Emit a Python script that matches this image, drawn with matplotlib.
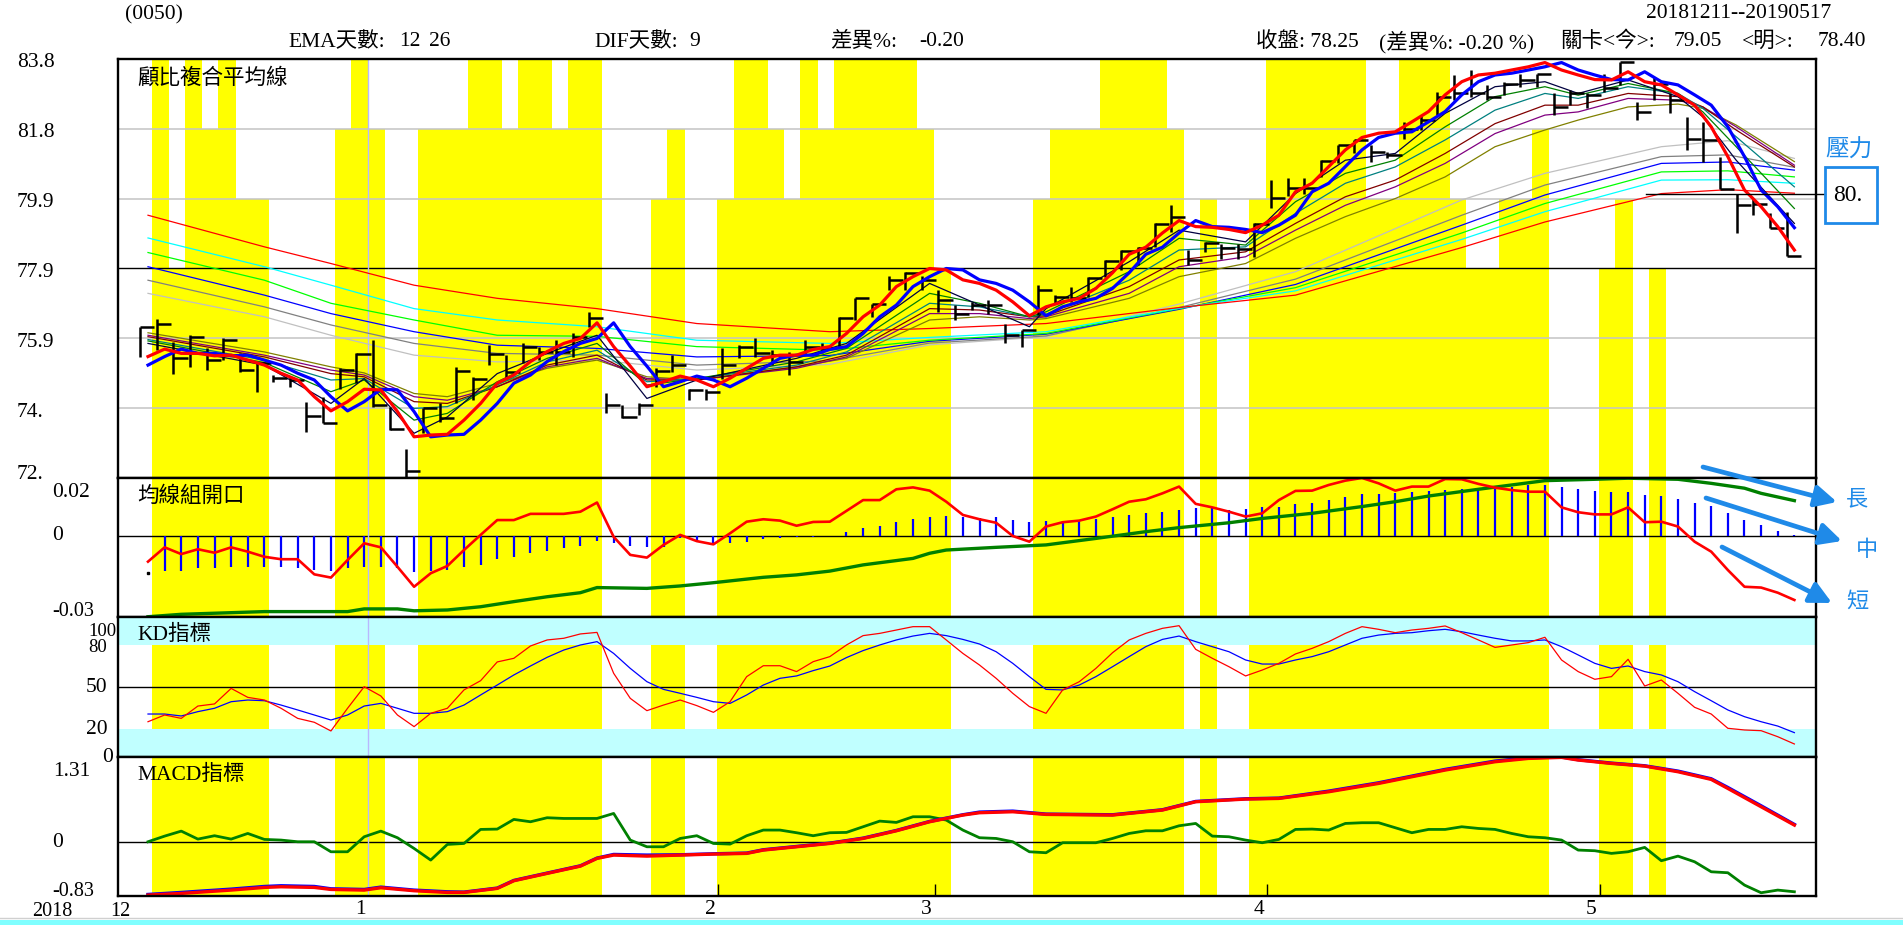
import numpy as np
import matplotlib
matplotlib.use('Agg')
import matplotlib.pyplot as plt
from matplotlib.patches import Rectangle, FancyArrowPatch
from matplotlib.lines import Line2D

plt.rcParams['font.family'] = ['Liberation Serif', 'Noto Sans CJK TC']

# ------------------------------------------------------------------ data
N_DAYS = 100
month_labels = ['1', '2', '3', '4', '5']
month_start = [13, 34, 47, 67, 87]
year_break = 13.2

# yellow background level (0..6 grid steps) per day
yellow_level = [6, 3, 6, 5, 6, 4, 4, 0, 0, 0,
                0, 5, 6, 5, 0, 0, 5, 5, 5, 6,
                6, 5, 6, 6, 5, 6, 6, 0, 0, 0,
                4, 5, 0, 0, 4, 6, 6, 5, 4, 6,
                5, 6, 6, 6, 6, 6, 5, 3, 0, 0,
                0, 0, 0, 4, 5, 5, 5, 6, 6, 6,
                6, 5, 0, 4, 0, 0, 4, 6, 6, 6,
                6, 6, 6, 4, 4, 6, 6, 6, 4, 3,
                3, 4, 4, 5, 0, 0, 0, 3, 4, 0,
                3, 0, 0, 0, 0, 0, 0, 0, 0, 0]

price_high = [76.24, 76.49, 75.84, 76.02, 75.65, 75.93, 75.51, 75.27, 74.90, 74.85,
              74.15, 74.29, 75.09, 75.51, 75.88, 74.01, 72.83, 73.96, 74.10, 75.13,
              74.85, 75.74, 75.46, 75.79, 75.70, 75.88, 76.07, 76.68, 74.38, 74.05,
              74.10, 75.09, 75.46, 74.52, 74.52, 75.65, 75.74, 75.93, 75.60, 75.55,
              75.88, 75.79, 76.54, 77.06, 76.90, 77.70, 77.80, 77.70, 77.29, 76.87,
              76.96, 77.01, 76.35, 76.17, 77.43, 77.15, 77.39, 77.67, 78.13, 78.42,
              78.51, 79.17, 79.68, 78.42, 78.65, 78.60, 78.60, 79.17, 80.39, 80.44,
              80.44, 80.95, 81.37, 81.51, 81.37, 81.19, 82.03, 82.22, 82.88, 83.35,
              83.49, 83.06, 83.16, 83.39, 83.39, 82.83, 82.92, 82.83, 83.39, 83.72,
              82.59, 83.30, 82.83, 82.17, 82.03, 81.05, 80.01, 79.87, 79.45, 79.50]
price_low = [75.41, 75.60, 74.94, 75.13, 75.04, 75.32, 74.99, 74.43, 74.71, 74.55,
             73.30, 73.54, 74.52, 74.67, 74.01, 73.35, 72.03, 73.26, 73.58, 74.10,
             74.20, 75.18, 74.80, 75.23, 75.32, 75.18, 75.41, 76.26, 73.82, 73.68,
             73.77, 74.57, 74.99, 74.20, 74.20, 74.80, 75.37, 75.41, 75.18, 74.90,
             75.46, 75.51, 75.70, 76.45, 76.54, 77.29, 77.29, 77.29, 76.68, 76.45,
             76.73, 76.63, 75.79, 75.70, 76.59, 76.92, 76.96, 77.10, 77.67, 77.86,
             78.00, 78.51, 78.93, 78.00, 78.37, 78.18, 78.18, 78.23, 79.60, 79.93,
             80.01, 80.48, 80.86, 81.14, 80.90, 81.00, 81.56, 81.80, 82.22, 82.64,
             82.74, 82.64, 82.78, 83.02, 83.02, 82.22, 82.50, 82.41, 82.88, 83.06,
             82.08, 82.64, 82.27, 81.23, 80.90, 80.15, 78.89, 79.40, 79.03, 78.25]
price_close = [76.24, 76.33, 75.37, 75.96, 75.32, 75.90, 75.04, 75.23, 74.83, 74.76,
               73.75, 73.56, 75.04, 75.49, 74.05, 73.37, 72.20, 73.96, 73.68, 75.02,
               74.80, 75.49, 74.99, 75.70, 75.55, 75.55, 75.98, 76.51, 74.05, 73.72,
               74.05, 75.02, 75.18, 74.48, 74.43, 75.18, 75.70, 75.51, 75.46, 75.27,
               75.70, 75.65, 76.51, 77.06, 76.90, 77.59, 77.76, 77.59, 77.01, 76.63,
               76.87, 76.87, 76.02, 76.16, 77.29, 77.10, 77.06, 77.62, 78.12, 78.40,
               78.49, 79.15, 79.36, 78.14, 78.61, 78.49, 78.46, 79.15, 79.88, 80.16,
               80.16, 80.94, 81.37, 81.51, 81.19, 81.09, 81.82, 82.08, 82.74, 82.83,
               82.83, 82.74, 83.11, 83.21, 83.39, 82.45, 82.83, 82.78, 82.97, 83.72,
               82.31, 83.11, 82.64, 81.56, 81.51, 80.15, 79.68, 79.73, 79.03, 78.25]

# thick red (barrier tomorrow) and thick blue (barrier today)
barrier_next = [75.42, 75.63, 75.51, 75.51, 75.44, 75.46, 75.32, 75.18, 74.95, 74.76,
                74.29, 73.89, 74.15, 74.50, 74.48, 73.87, 73.16, 73.21, 73.23, 73.63,
                74.10, 74.67, 74.90, 75.28, 75.56, 75.79, 75.93, 76.37, 75.70, 75.15,
                74.57, 74.71, 74.87, 74.76, 74.57, 74.81, 75.09, 75.37, 75.46, 75.46,
                75.62, 75.70, 76.07, 76.54, 76.87, 77.39, 77.67, 77.90, 77.86, 77.58,
                77.48, 77.29, 76.96, 76.57, 76.82, 76.96, 77.06, 77.34, 77.78, 78.30,
                78.50, 78.90, 79.25, 79.08, 79.06, 79.00, 78.91, 79.12, 79.40, 80.06,
                80.30, 80.77, 81.24, 81.59, 81.71, 81.75, 82.03, 82.32, 82.79, 83.16,
                83.35, 83.40, 83.49, 83.58, 83.70, 83.49, 83.35, 83.22, 83.21, 83.44,
                83.16, 83.07, 82.79, 82.50, 81.89, 81.05, 80.11, 79.64, 79.08, 78.42]
barrier_today = [75.18, 75.42, 75.63, 75.51, 75.51, 75.44, 75.46, 75.32, 75.18, 74.95,
                 74.76, 74.29, 73.89, 74.15, 74.50, 74.48, 73.87, 73.16, 73.21, 73.23,
                 73.63, 74.10, 74.67, 74.90, 75.28, 75.56, 75.79, 75.93, 76.37, 75.70,
                 75.15, 74.57, 74.71, 74.87, 74.76, 74.57, 74.81, 75.09, 75.37, 75.46,
                 75.46, 75.62, 75.70, 76.07, 76.54, 76.87, 77.39, 77.67, 77.90, 77.86,
                 77.58, 77.48, 77.29, 76.96, 76.57, 76.82, 76.96, 77.06, 77.34, 77.78,
                 78.30, 78.50, 78.90, 79.25, 79.08, 79.06, 79.00, 78.91, 79.12, 79.40,
                 80.06, 80.30, 80.77, 81.24, 81.59, 81.71, 81.75, 82.03, 82.32, 82.79,
                 83.16, 83.35, 83.40, 83.49, 83.58, 83.70, 83.49, 83.35, 83.22, 83.21,
                 83.44, 83.16, 83.07, 82.79, 82.50, 81.89, 81.05, 80.11, 79.64, 79.05]

# short-term Guppy group, values read at these days
short_days = [0, 7, 11, 13, 16, 18, 21, 24, 27, 30, 33, 39, 42, 47, 50, 53, 54, 59, 62, 66,
              69, 72, 75, 78, 81, 84, 86, 89, 92, 93.5, 95.5, 99]
ema3 = [75.79, 75.18, 74.10, 74.80, 73.26, 73.72, 74.94, 75.51, 76.02, 74.24, 74.76, 75.37,
        75.79, 77.48, 76.87, 76.26, 76.77, 78.09, 78.98, 78.65, 80.01, 80.95, 81.14, 82.27,
        83.02, 83.16, 82.83, 83.21, 82.74, 82.17, 80.95, 79.17]
ema5 = [75.86, 75.25, 74.43, 74.76, 73.63, 73.82, 74.71, 75.37, 75.79, 74.62, 74.80, 75.27,
        75.65, 77.20, 76.92, 76.54, 76.68, 77.81, 78.75, 78.56, 79.78, 80.58, 80.95, 81.89,
        82.74, 83.02, 82.78, 83.11, 82.83, 82.31, 81.33, 79.59]
ema8 = [75.90, 75.32, 74.76, 74.80, 73.96, 74.01, 74.62, 75.27, 75.60, 74.71, 74.80, 75.18,
        75.55, 76.92, 76.82, 76.54, 76.61, 77.57, 78.42, 78.51, 79.45, 80.30, 80.76, 81.52,
        82.36, 82.83, 82.69, 83.02, 82.83, 82.41, 81.61, 80.20]
ema10 = [75.98, 75.41, 74.94, 74.85, 74.15, 74.10, 74.57, 75.18, 75.46, 74.76, 74.76, 75.13,
         75.46, 76.77, 76.73, 76.54, 76.57, 77.39, 78.14, 78.37, 79.17, 79.92, 80.39, 81.14,
         81.98, 82.50, 82.50, 82.83, 82.74, 82.45, 81.80, 80.76]
ema12 = [76.02, 75.46, 75.04, 74.90, 74.29, 74.19, 74.57, 75.13, 75.37, 74.80, 74.76, 75.09,
         75.41, 76.63, 76.63, 76.49, 76.54, 77.20, 77.95, 78.23, 78.98, 79.68, 80.20, 80.86,
         81.70, 82.22, 82.31, 82.69, 82.64, 82.45, 81.89, 80.81]
ema15 = [76.09, 75.55, 75.13, 74.96, 74.38, 74.29, 74.66, 75.09, 75.32, 74.85, 74.76, 75.13,
         75.37, 76.45, 76.54, 76.45, 76.49, 77.06, 77.67, 78.04, 78.75, 79.36, 79.87, 80.48,
         81.33, 81.80, 82.08, 82.45, 82.53, 82.41, 81.94, 80.91]

# long-term Guppy group
long_days = [0, 7, 11, 16, 21, 27, 33, 41, 47, 54, 62, 69, 79, 84, 91, 95, 99]
ema30 = [77.20, 76.54, 76.02, 75.46, 75.27, 75.32, 75.04, 75.20, 75.75, 75.98, 76.90, 77.81,
         79.83, 80.58, 81.33, 81.50, 81.00]
ema35 = [77.57, 76.82, 76.31, 75.79, 75.51, 75.46, 75.18, 75.30, 75.80, 76.00, 76.80, 77.60,
         79.40, 80.25, 81.05, 81.10, 80.75]
ema40 = [77.95, 77.15, 76.63, 76.12, 75.74, 75.65, 75.41, 75.45, 75.85, 76.05, 76.75, 77.45,
         79.12, 79.97, 80.86, 80.90, 80.67]
ema45 = [78.35, 77.57, 76.92, 76.45, 76.02, 75.99, 75.70, 75.60, 75.88, 76.07, 76.77, 77.36,
         78.90, 79.73, 80.62, 80.65, 80.48]
ema50 = [78.76, 77.95, 77.43, 76.77, 76.45, 76.26, 75.88, 75.79, 75.96, 76.12, 76.78, 77.27,
         78.72, 79.50, 80.39, 80.40, 80.30]
ema60 = [79.40, 78.51, 78.04, 77.43, 77.06, 76.77, 76.35, 76.12, 76.21, 76.35, 76.80, 77.15,
         78.49, 79.21, 80.01, 80.12, 80.02]

pressure = 80.0
pressure_from = 90.1

# panel 2 : 均線組開口
open_short = [-0.0095, -0.0042, -0.0067, -0.0049, -0.0062, -0.0042, -0.0058, -0.0077, -0.0086, -0.0086,
              -0.0142, -0.0154, -0.0089, -0.0027, -0.0042, -0.0114, -0.0188, -0.0138, -0.0111, -0.0052,
              0.0004, 0.0059, 0.0059, 0.0082, 0.0082, 0.0082, 0.0090, 0.0124, -0.0003, -0.0070,
              -0.0080, -0.0033, 0.0004, -0.0019, -0.0031, 0.0010, 0.0053, 0.0062, 0.0057, 0.0038,
              0.0052, 0.0053, 0.0093, 0.0133, 0.0133, 0.0173, 0.0180, 0.0168, 0.0127, 0.0078,
              0.0062, 0.0049, 0.0000, -0.0021, 0.0035, 0.0051, 0.0057, 0.0072, 0.0099, 0.0127,
              0.0136, 0.0158, 0.0183, 0.0119, 0.0106, 0.0090, 0.0072, 0.0084, 0.0133, 0.0167,
              0.0168, 0.0189, 0.0205, 0.0215, 0.0195, 0.0168, 0.0183, 0.0183, 0.0211, 0.0210,
              0.0193, 0.0179, 0.0170, 0.0164, 0.0164, 0.0106, 0.0088, 0.0080, 0.0080, 0.0106,
              0.0051, 0.0053, 0.0035, -0.0021, -0.0058, -0.0126, -0.0188, -0.0191, -0.0210, -0.0237]
open_bars = [np.nan, -0.0128, -0.0128, -0.0120, -0.0120, -0.0116, -0.0114, -0.0114, -0.0114, -0.0120,
             -0.0126, -0.0128, -0.0120, -0.0114, -0.0114, -0.0120, -0.0132, -0.0128, -0.0126, -0.0116,
             -0.0107, -0.0086, -0.0079, -0.0064, -0.0054, -0.0046, -0.0037, -0.0019, -0.0027, -0.0037,
             -0.0042, -0.0040, -0.0009, -0.0021, -0.0031, -0.0027, -0.0021, -0.0012, -0.0009, -0.0005,
             -0.0003, 0.0000, 0.0016, 0.0028, 0.0038, 0.0053, 0.0063, 0.0072, 0.0074, 0.0072,
             0.0068, 0.0069, 0.0059, 0.0053, 0.0056, 0.0057, 0.0059, 0.0063, 0.0072, 0.0078,
             0.0086, 0.0090, 0.0096, 0.0103, 0.0103, 0.0096, 0.0099, 0.0109, 0.0109, 0.0119,
             0.0124, 0.0133, 0.0146, 0.0156, 0.0156, 0.0161, 0.0164, 0.0167, 0.0170, 0.0173,
             0.0177, 0.0183, 0.0183, 0.0189, 0.0189, 0.0183, 0.0173, 0.0168, 0.0162, 0.0162,
             0.0152, 0.0148, 0.0136, 0.0124, 0.0111, 0.0086, 0.0059, 0.0041, 0.0020, 0.0003]
open_long_days = [0, 2, 7, 12, 13, 15, 16, 18, 20, 22, 24, 26, 27, 30, 32, 34, 37, 39, 41, 43,
                  46, 47, 48, 51, 54, 57, 60, 62, 65, 67, 70, 73, 75, 77, 80, 82, 84, 87, 89, 92,
                  94, 96, 97, 99]
open_long = [-0.0299, -0.0290, -0.0280, -0.0280, -0.0270, -0.0270, -0.0277, -0.0274, -0.0262, -0.0243,
             -0.0225, -0.0210, -0.0191, -0.0194, -0.0185, -0.0173, -0.0153, -0.0144, -0.0130, -0.0107,
             -0.0083, -0.0064, -0.0052, -0.0042, -0.0033, -0.0009, 0.0016, 0.0031, 0.0049, 0.0065,
             0.0084, 0.0109, 0.0127, 0.0148, 0.0173, 0.0189, 0.0205, 0.0210, 0.0214, 0.0210,
             0.0195, 0.0177, 0.0158, 0.0131]
open_first_dot = -0.0137

# KD
kd_k = [25.2, 30.0, 27.6, 36.4, 37.9, 49.0, 42.6, 40.7, 34.8, 27.6,
        24.8, 18.6, 34.8, 50.2, 43.6, 30.0, 21.7, 31.2, 34.8, 47.9,
        54.5, 67.9, 70.5, 79.3, 83.6, 84.8, 87.9, 89.0, 59.8, 41.9,
        33.1, 37.1, 40.7, 36.7, 31.9, 39.5, 57.4, 65.2, 65.2, 61.0,
        68.1, 71.7, 80.0, 86.7, 88.3, 90.7, 93.1, 93.1, 83.6, 74.0,
        65.7, 56.2, 45.5, 36.0, 31.2, 47.9, 53.8, 63.3, 74.5, 83.6,
        88.3, 91.9, 93.8, 76.9, 70.5, 64.5, 57.9, 62.1, 66.9, 73.6,
        77.6, 82.4, 88.3, 93.1, 91.2, 88.8, 90.7, 91.9, 93.6, 88.8,
        83.6, 78.3, 80.0, 81.7, 85.5, 69.3, 61.0, 55.5, 57.4, 69.8,
        50.7, 55.0, 45.5, 35.5, 30.7, 20.5, 19.3, 18.8, 14.5, 9.3]
kd_d = [30.7, 30.7, 29.3, 32.4, 34.8, 39.5, 40.7, 40.2, 37.1, 33.6,
        30.0, 26.4, 30.0, 36.4, 38.3, 34.8, 31.2, 31.2, 32.4, 37.1,
        44.3, 51.4, 58.6, 65.0, 71.2, 76.4, 80.0, 82.4, 74.0, 63.3,
        53.8, 48.3, 45.5, 42.6, 39.5, 38.3, 44.3, 51.4, 56.2, 57.9,
        61.7, 65.0, 71.0, 76.0, 80.0, 83.6, 86.4, 88.3, 86.7, 84.0,
        80.7, 75.2, 66.9, 57.4, 48.3, 47.9, 51.4, 57.4, 64.5, 71.7,
        78.8, 84.0, 86.4, 82.4, 78.8, 75.2, 69.3, 66.4, 66.4, 69.3,
        71.7, 75.2, 80.0, 84.8, 87.1, 88.3, 88.8, 90.2, 91.2, 89.5,
        87.1, 84.8, 82.9, 82.9, 83.6, 78.8, 72.9, 66.9, 63.3, 65.0,
        61.0, 58.6, 53.8, 46.7, 40.2, 33.6, 28.8, 25.2, 22.1, 17.4]

# MACD
macd_days = [0, 2, 5, 7, 8, 10, 11, 13, 14, 16, 18, 19, 21, 22, 24, 26, 27, 28, 30, 32,
             34, 36, 37, 39, 41, 43, 45, 47, 49, 50, 52, 54, 58, 61, 63, 66, 68, 71, 74, 76,
             78, 81, 83, 85, 86, 88, 90, 92, 94, 95, 97, 99]
macd_red = [-0.816, -0.790, -0.739, -0.698, -0.688, -0.698, -0.729, -0.739, -0.703, -0.749,
            -0.775, -0.775, -0.713, -0.595, -0.482, -0.370, -0.251, -0.200, -0.216, -0.200,
            -0.185, -0.174, -0.123, -0.072, -0.021, 0.056, 0.174, 0.313, 0.416, 0.452,
            0.467, 0.426, 0.416, 0.493, 0.621, 0.662, 0.672, 0.775, 0.903, 1.006,
            1.109, 1.237, 1.288, 1.304, 1.263, 1.211, 1.170, 1.083, 0.965, 0.826,
            0.544, 0.262]
macd_blue = [-0.806, -0.775, -0.724, -0.683, -0.672, -0.683, -0.719, -0.729, -0.693, -0.739,
             -0.765, -0.770, -0.708, -0.590, -0.477, -0.365, -0.246, -0.190, -0.200, -0.195,
             -0.180, -0.169, -0.118, -0.067, -0.016, 0.061, 0.179, 0.318, 0.421, 0.462,
             0.477, 0.431, 0.421, 0.498, 0.626, 0.667, 0.677, 0.785, 0.913, 1.016,
             1.119, 1.247, 1.298, 1.310, 1.268, 1.216, 1.175, 1.093, 0.975, 0.841,
             0.559, 0.272]
macd_osc = [0.005, 0.092, 0.169, 0.046, 0.098, 0.046, 0.133, 0.041, 0.031, 0.005,
            0.005, -0.149, -0.149, 0.082, 0.169, 0.067, -0.098, -0.277, -0.036, -0.021,
            0.195, 0.200, 0.349, 0.313, 0.375, 0.364, 0.364, 0.364, 0.441, 0.031,
            -0.072, -0.072, 0.056, 0.098, -0.021, -0.031, 0.098, 0.185, 0.185, 0.144,
            0.098, 0.144, 0.149, 0.236, 0.323, 0.303, 0.390, 0.390, 0.339, 0.185,
            0.067, 0.056, 0.005, -0.149, -0.164, -0.010, -0.010, -0.010, 0.056, 0.133,
            0.174, 0.174, 0.251, 0.287, 0.092, 0.082, 0.031, -0.010, 0.041, 0.195,
            0.200, 0.185, 0.287, 0.298, 0.298, 0.221, 0.144, 0.195, 0.195, 0.236,
            0.210, 0.195, 0.133, 0.082, 0.067, 0.031, -0.123, -0.133, -0.174, -0.149,
            -0.082, -0.287, -0.216, -0.303, -0.457, -0.472, -0.662, -0.780, -0.739, -0.765]

main_ticks = ['83.8', '81.8', '79.9', '77.9', '75.9', '74.', '72.']

# ------------------------------------------------------------------ layout
W, H = 1903, 925
FS = 15.5
fig = plt.figure(figsize=(W / 100, H / 100), dpi=100)
LEFT, RIGHT = 118, 1816
X_DAY0, PX_PER_DAY = 148, 16.63
XLIM = ((LEFT - X_DAY0) / PX_PER_DAY, (RIGHT - X_DAY0) / PX_PER_DAY)
YELLOW = '#ffff00'
ARROW_BLUE = '#1f8ae8'
days = np.arange(N_DAYS)
lvl = np.array(yellow_level)


def panel(top, bottom, ylim):
    ax = fig.add_axes([LEFT / W, 1 - bottom / H, (RIGHT - LEFT) / W, (bottom - top) / H])
    ax.set_xlim(*XLIM)
    ax.set_ylim(*ylim)
    ax.set_xticks([])
    ax.set_yticks([])
    for s in ax.spines.values():
        s.set_linewidth(1.7)
        s.set_color('black')
        s.set_zorder(30)
    ax.axvline(year_break, color='#b8b8ff', lw=1.0, zorder=2)
    return ax


def full_yellow(ax):
    y0, y1 = ax.get_ylim()
    ax.bar(days + 0.75, np.where(lvl > 0, y1 - y0, 0.0), bottom=y0, width=1.04,
           color=YELLOW, linewidth=0, zorder=0)


def ylabels(ax, items, fs=FS):
    for item in items:
        lbl, val, dx, dy = item[:4]
        size = item[4] if len(item) > 4 else fs
        ax.annotate(lbl, xy=(0, val), xycoords=('axes fraction', 'data'), xytext=(dx, dy),
                    textcoords='offset pixels', ha='left', va='center', fontsize=size,
                    annotation_clip=False)


def ftext(x, y, s, **kw):
    fs = kw.pop('fontsize', FS)
    ha = kw.pop('ha', 'left')
    fig.text(x / W, 1 - y / H, s, fontsize=fs, ha=ha, va='center', **kw)


# ---------------- main panel
ymin, ymax = 72.0, 83.8
step = (ymax - ymin) / 6
ax1 = panel(59, 478, (ymin, ymax))
ax1.bar(days + 0.75, lvl * step, bottom=ymin, width=1.04, color=YELLOW, linewidth=0, zorder=0)
for k in range(1, 6):
    if k == 3:
        ax1.axhline(ymin + k * step, color='black', lw=1.0, zorder=1)
    else:
        ax1.axhline(ymin + k * step, color='#c4c4c4', lw=1.1, zorder=1)

for vals, col in [(ema30, '#c0c0c0'), (ema35, '#808080'), (ema40, '#0000ff'),
                  (ema45, '#00ff00'), (ema50, '#00ffff'), (ema60, '#ff0000')]:
    ax1.plot(long_days, vals, color=col, lw=0.9, zorder=3)
for vals, col in [(ema15, '#808000'), (ema12, '#800080'), (ema10, '#800000'),
                  (ema8, '#008080'), (ema5, '#008000'), (ema3, '#000040')]:
    ax1.plot(short_days, vals, color=col, lw=0.9, zorder=3)

ax1.vlines(days - 0.47, price_low, price_high, color='black', lw=1.8, zorder=4)
ax1.hlines(price_close, days - 0.47, days + 0.38, color='black', lw=1.8, zorder=4)
ax1.plot(days, barrier_today, color='#0000ff', lw=2.3, zorder=5)
ax1.plot(days, barrier_next, color='#ff0000', lw=2.3, zorder=6)

x_box = XLIM[0] + (1825 - LEFT) / (RIGHT - LEFT) * (XLIM[1] - XLIM[0])
ax1.plot([pressure_from, x_box], [pressure, pressure], color='black', lw=1.0,
         clip_on=False, zorder=7)

ylabels(ax1, [(t, ymax - i * step, 17 - LEFT, 3 if i == 6 else -4)
              for i, t in enumerate(main_ticks)])
ax1.text(0.0115, 0.955, '顧比複合平均線', transform=ax1.transAxes, fontsize=FS,
         family='Noto Sans CJK TC', va='center', ha='left', zorder=20)

# ---------------- panel 2
ax2 = panel(478, 617, (-0.03, 0.02148))
full_yellow(ax2)
ax2.axhline(0, color='black', lw=1.0, zorder=1)
ax2.vlines(days, 0, open_bars, color='#0000ff', lw=1.6, zorder=3)
ax2.plot(open_long_days, open_long, color='#008000', lw=2.4, zorder=4)
ax2.plot(days, open_short, color='#ff0000', lw=1.9, zorder=5)
ax2.plot([0], [open_first_dot], marker='s', ms=1.6, color='black', zorder=6)
ylabels(ax2, [('0.02', 0.02, 52 - LEFT, -11), ('0', 0.0, 52 - LEFT, 0),
              ('-0.03', -0.03, 52 - LEFT, 5, 14.5)])
ax2.text(0.0115, 0.87, '均線組開口', transform=ax2.transAxes, fontsize=FS,
         family='Noto Sans CJK TC', va='center', ha='left', zorder=20)

# ---------------- KD
ax3 = panel(617, 757, (0, 100))
full_yellow(ax3)
ax3.axhspan(80, 100, color='#c0ffff', lw=0, zorder=1)
ax3.axhspan(0, 20, color='#c0ffff', lw=0, zorder=1)
ax3.axhline(50, color='black', lw=1.0, zorder=2)
ax3.plot(days, kd_d, color='#0000ff', lw=0.9, zorder=4)
ax3.plot(days, kd_k, color='#ff0000', lw=0.9, zorder=5)
ylabels(ax3, [('100', 100, 88 - LEFT, -14, 13.5), ('80', 80, 88 - LEFT, -3, 13.5),
              ('50', 50, 86 - LEFT, 0), ('20', 20, 86 - LEFT, 0), ('0', 0, 102 - LEFT, 0)])
ax3.text(0.0115, 0.87, 'KD指標', transform=ax3.transAxes, fontsize=FS,
         va='center', ha='left', zorder=20)

# ---------------- MACD
ax4 = panel(757, 896, (-0.83, 1.31))
full_yellow(ax4)
ax4.axhline(0, color='black', lw=1.0, zorder=1)
ax4.plot(days, macd_osc, color='#008000', lw=2.0, zorder=4)
ax4.plot(macd_days, macd_blue, color='#0000ff', lw=2.4, zorder=5)
ax4.plot(macd_days, macd_red, color='#ff0000', lw=2.4, zorder=6)
tick_len = 12 / 139 * (1.31 + 0.83)
ax4.vlines(np.array(month_start[1:]) + 0.3, -0.83, -0.83 + tick_len, color='black', lw=1.0, zorder=7)
ylabels(ax4, [('1.31', 1.31, 53 - LEFT, -15), ('0', 0.0, 52 - LEFT, 0),
              ('-0.83', -0.83, 52 - LEFT, 4, 14.5)])
ax4.text(0.0115, 0.87, 'MACD指標', transform=ax4.transAxes, fontsize=FS,
         va='center', ha='left', zorder=20)

# x labels
for lbl, d in zip(month_labels, month_start):
    ax4.annotate(lbl, xy=(d - 0.2, 0), xycoords=('data', 'axes fraction'), xytext=(0, -14),
                 textcoords='offset pixels', ha='center', va='center', fontsize=FS,
                 annotation_clip=False)
ftext(32, 911, '2018', fontsize=14.5)
ftext(110, 911, '12', fontsize=14.5)

# bottom strip
fig.add_artist(Line2D([0, 1], [1 - 918 / H] * 2, transform=fig.transFigure, color='#d0d0d0', lw=1))
fig.add_artist(Rectangle((0, 0), 1, 5 / H, transform=fig.transFigure, color='#80ffff', lw=0))

# ---------------- header
ftext(125, 15, '(0050)')
ftext(1646, 14, '20181211--20190517')
ftext(288, 42, 'EMA天數:')
ftext(399, 42, '12')
ftext(429, 42, '26')
ftext(594, 42, 'DIF天數:')
ftext(689, 42, '9')
ftext(830, 42, '差異%:')
ftext(919, 42, '-0.20')
ftext(1256, 42, '收盤: 78.25')
ftext(1379, 42, '(差異%: -0.20 %)')
ftext(1560, 42, '關卡<今>:')
ftext(1674, 42, '79.05')
ftext(1742, 42, '<明>:')
ftext(1818, 42, '78.40')

# ---------------- right annotations
ftext(1849, 150, '壓力', ha='center', color=ARROW_BLUE, fontsize=17, family='Noto Sans CJK TC')
fig.add_artist(Rectangle((1825 / W, 1 - 223 / H), 52 / W, 56 / H, transform=fig.transFigure,
                         fill=False, ec=ARROW_BLUE, lw=2.0))
ftext(1833, 195, '80.', fontsize=17)
for (x1, y1, x2, y2) in [(1703, 467, 1837, 502), (1706, 498, 1842, 541), (1722, 547, 1832, 603)]:
    fig.add_artist(FancyArrowPatch((x1 / W, 1 - y1 / H), (x2 / W, 1 - y2 / H),
                                   transform=fig.transFigure,
                                   arrowstyle='-|>,head_length=1.3,head_width=0.65',
                                   mutation_scale=10, lw=3.4, color=ARROW_BLUE,
                                   shrinkA=0, shrinkB=0))
for s, x, y in [('長', 1857, 499), ('中', 1867, 549), ('短', 1857, 601)]:
    ftext(x, y, s, ha='center', color=ARROW_BLUE, fontsize=16, family='Noto Sans CJK TC')

fig.savefig('out.png', dpi=100)
